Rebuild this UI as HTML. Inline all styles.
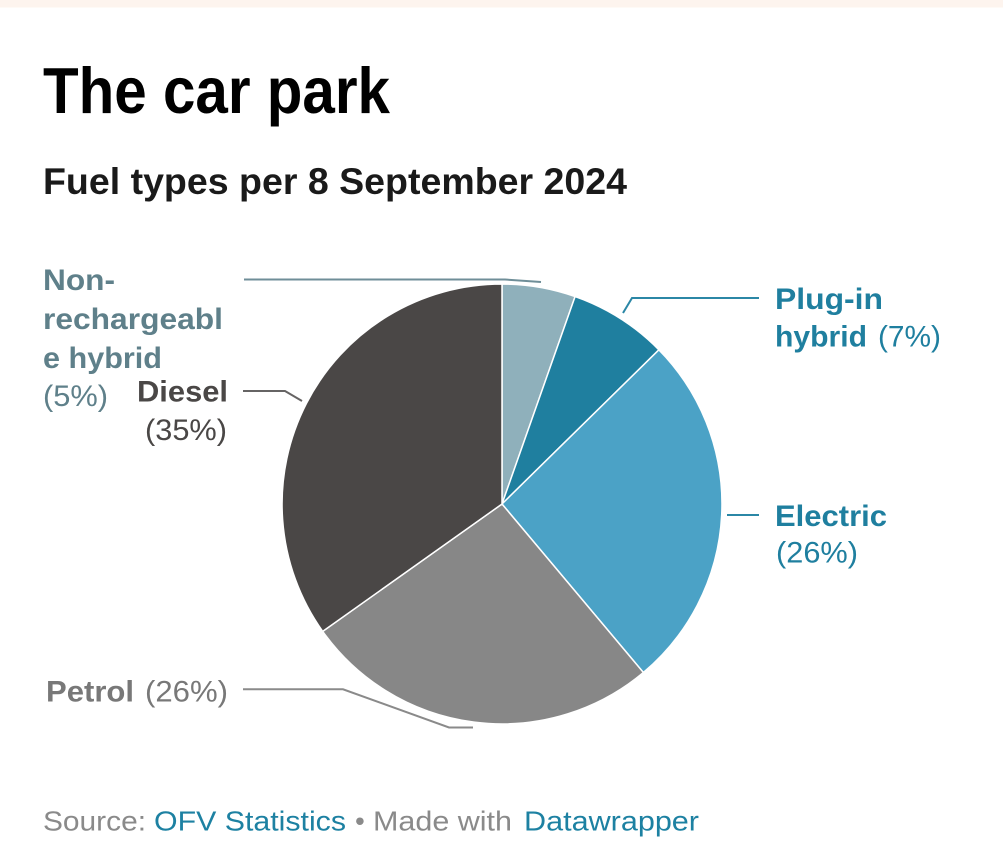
<!DOCTYPE html>
<html>
<head>
<meta charset="utf-8">
<style>
  html,body{margin:0;padding:0;background:#fff;}
  svg{display:block;}
  text{font-family:"Liberation Sans",Arial,sans-serif;}
</style>
</head>
<body>
<svg width="1003" height="866" viewBox="0 0 1003 866" xmlns="http://www.w3.org/2000/svg">
  <rect x="0" y="0" width="1003" height="866" fill="#ffffff"/>
  <rect x="0" y="0" width="1003" height="7.5" fill="#fdf4ee"/>

  <!-- Title -->
  <text x="43" y="113" font-size="65" font-weight="bold" fill="#000" textLength="347" lengthAdjust="spacingAndGlyphs">The car park</text>
  <text x="43" y="194" font-size="37" font-weight="bold" fill="#1a1a1a" textLength="584" lengthAdjust="spacingAndGlyphs">Fuel types per 8 September 2024</text>

  <!-- Pie -->
  <g stroke="#ffffff" stroke-width="1.5" stroke-linejoin="round">
    <path d="M502,504 L502,284 A220,220 0 0 1 575.1,296.5 Z" fill="#8fb0bb"/>
    <path d="M502,504 L575.1,296.5 A220,220 0 0 1 658.9,349.8 Z" fill="#1f7f9f"/>
    <path d="M502,504 L658.9,349.8 A220,220 0 0 1 643.4,672.5 Z" fill="#4ba2c6"/>
    <path d="M502,504 L643.4,672.5 A220,220 0 0 1 322.7,631.4 Z" fill="#878787"/>
    <path d="M502,504 L322.7,631.4 A220,220 0 0 1 502,284 Z" fill="#4a4746"/>
  </g>

  <!-- Leader lines -->
  <g fill="none" stroke-width="2">
    <path d="M244,279.5 L505,279.5 L541,282" stroke="#6f8e98"/>
    <path d="M243,391 L285,391 L302,401" stroke="#666464"/>
    <path d="M759,298 L632,298 L623,313" stroke="#2b87a6"/>
    <path d="M727,515 L759,515" stroke="#2b87a6"/>
    <path d="M243,689.3 L343,689.3 L449,727.5 L473,727.5" stroke="#8a8a8a"/>
  </g>

  <!-- Non-rechargeable hybrid label -->
  <g fill="#5f808a" font-size="30">
    <text x="43" y="290" font-weight="bold" textLength="72" lengthAdjust="spacingAndGlyphs">Non-</text>
    <text x="43" y="329" font-weight="bold" textLength="180" lengthAdjust="spacingAndGlyphs">rechargeabl</text>
    <text x="43" y="368" font-weight="bold" textLength="119" lengthAdjust="spacingAndGlyphs">e hybrid</text>
    <text x="43" y="406" textLength="65" lengthAdjust="spacingAndGlyphs">(5%)</text>
  </g>

  <!-- Diesel label -->
  <g fill="#4a4746" font-size="30">
    <text x="137" y="401.5" font-weight="bold" textLength="91" lengthAdjust="spacingAndGlyphs">Diesel</text>
    <text x="145" y="440" textLength="82" lengthAdjust="spacingAndGlyphs">(35%)</text>
  </g>

  <!-- Plug-in hybrid label -->
  <g fill="#1f7f9f" font-size="30">
    <text x="775" y="309" font-weight="bold" textLength="108" lengthAdjust="spacingAndGlyphs">Plug-in</text>
    <text x="775" y="346.5" font-weight="bold" textLength="92" lengthAdjust="spacingAndGlyphs">hybrid</text>
    <text x="878" y="346.5" textLength="63" lengthAdjust="spacingAndGlyphs">(7%)</text>
  </g>

  <!-- Electric label -->
  <g fill="#1f7f9f" font-size="30">
    <text x="775" y="526" font-weight="bold" textLength="112" lengthAdjust="spacingAndGlyphs">Electric</text>
    <text x="776" y="562.5" textLength="82" lengthAdjust="spacingAndGlyphs">(26%)</text>
  </g>

  <!-- Petrol label -->
  <g fill="#787878" font-size="30">
    <text x="46" y="701.5" font-weight="bold" textLength="88" lengthAdjust="spacingAndGlyphs">Petrol</text>
    <text x="145" y="701.5" textLength="83" lengthAdjust="spacingAndGlyphs">(26%)</text>
  </g>

  <!-- Source -->
  <g font-size="28">
    <text x="43" y="830.5" fill="#8a8a8a" textLength="103" lengthAdjust="spacingAndGlyphs">Source:</text>
    <text x="154" y="830.5" fill="#1d81a2" textLength="192" lengthAdjust="spacingAndGlyphs">OFV Statistics</text>
    <text x="355" y="830.5" fill="#8a8a8a">•</text>
    <text x="373" y="830.5" fill="#8a8a8a" textLength="139" lengthAdjust="spacingAndGlyphs">Made with</text>
    <text x="524" y="830.5" fill="#1d81a2" textLength="175" lengthAdjust="spacingAndGlyphs">Datawrapper</text>
  </g>
</svg>
</body>
</html>
